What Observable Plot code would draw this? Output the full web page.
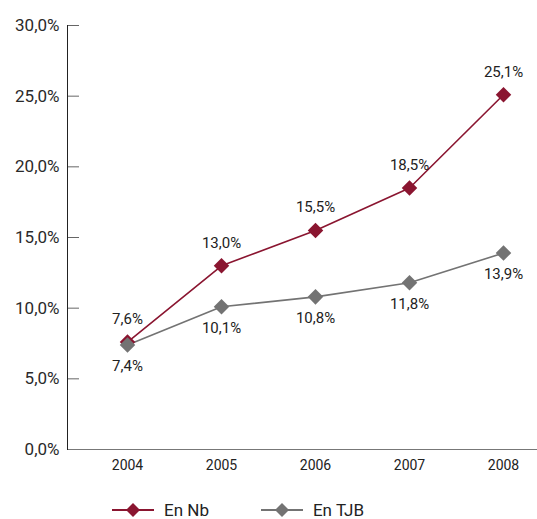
<!DOCTYPE html>
<html>
<head>
<meta charset="utf-8">
<script src="https://cdn.jsdelivr.net/npm/d3@7"></script>
<script src="https://cdn.jsdelivr.net/npm/@observablehq/plot@0.6"></script>
<style>
  body { margin: 0; background: #fff; font-family: Roboto, "DejaVu Sans", sans-serif; }
  #legend { display: flex; align-items: center; margin-left: 112px; margin-top: 20px; font-size: 17px; color: #222; }
  #legend .item { display: flex; align-items: center; margin-right: 52px; }
  #legend svg { margin-right: 10px; }
</style>
</head>
<body>
<div id="chart"></div>
<div id="legend"></div>
<script>
const years = ["2004", "2005", "2006", "2007", "2008"];
const enNb = [7.6, 13.0, 15.5, 18.5, 25.1];
const enTJB = [7.4, 10.1, 10.8, 11.8, 13.9];
const yTicks = [0, 5, 10, 15, 20, 25, 30];
const seriesNames = ["En Nb", "En TJB"];
const colors = ["#8a1530", "#737373"];

const fmt = d => d.toFixed(1).replace(".", ",") + "%";
const nb = years.map((y, i) => ({year: y, value: enNb[i]}));
const tjb = years.map((y, i) => ({year: y, value: enTJB[i]}));

const plot = Plot.plot({
  width: 537,
  height: 480,
  marginLeft: 67,
  marginRight: 0,
  marginTop: 25,
  marginBottom: 31,
  style: {fontFamily: "Roboto, sans-serif", fontSize: "14px", color: "#222"},
  x: {type: "point", domain: years, padding: 0, insetLeft: 59, insetRight: 33},
  y: {domain: [0, 30]},
  marks: [
    Plot.axisY(yTicks, {tickFormat: fmt, tickSize: -12, tickPadding: 20, stroke: "#666", fontSize: 17, color: "#2a2a2a", label: null}),
    Plot.axisX({tickSize: 0, tickPadding: 11, fontSize: 14, label: null}),
    Plot.frame({anchor: "bottom", stroke: "#777"}),
    Plot.frame({anchor: "left", stroke: "#222"}),
    Plot.line(tjb, {x: "year", y: "value", stroke: colors[1], strokeWidth: 1.6}),
    Plot.line(nb, {x: "year", y: "value", stroke: colors[0], strokeWidth: 1.6}),
    Plot.dot(nb, {x: "year", y: "value", symbol: "diamond2", fill: colors[0], r: 7}),
    Plot.dot(tjb, {x: "year", y: "value", symbol: "diamond2", fill: colors[1], r: 7}),
    Plot.text(nb, {x: "year", y: "value", text: d => fmt(d.value), dy: -23, fontSize: 15, fill: "#222"}),
    Plot.text(tjb, {x: "year", y: "value", text: d => fmt(d.value), dy: 21, fontSize: 15, fill: "#222"})
  ]
});
document.getElementById("chart").appendChild(plot);

const legend = document.getElementById("legend");
seriesNames.forEach((name, i) => {
  const item = document.createElement("div");
  item.className = "item";
  item.innerHTML = `<svg width="42" height="16"><line x1="0" y1="8" x2="42" y2="8" stroke="${colors[i]}" stroke-width="2"/><path d="M21,1 L28,8 L21,15 L14,8 Z" fill="${colors[i]}"/></svg><span>${name}</span>`;
  legend.appendChild(item);
});
</script>
</body>
</html>
